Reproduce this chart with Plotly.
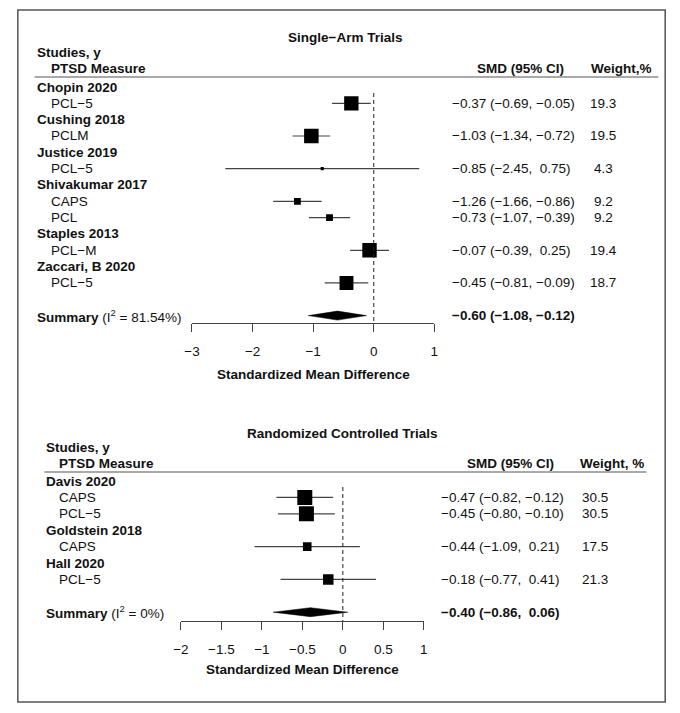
import plotly.graph_objects as go

W, H = 680, 713
FONT = "Liberation Sans, Arial, sans-serif"
FS = 13.5

# ---- Single-arm trials ----
sa_study = ["Chopin 2020", "Cushing 2018", "Justice 2019", "Shivakumar 2017",
            "Staples 2013", "Zaccari, B 2020"]
sa_measure = ["PCL−5", "PCLM", "PCL−5", "CAPS", "PCL", "PCL−M", "PCL−5"]
sa_group = [0, 1, 2, 3, 3, 4, 5]
sa_smd = [-0.37, -1.03, -0.85, -1.26, -0.73, -0.07, -0.45]
sa_lo = [-0.69, -1.34, -2.45, -1.66, -1.07, -0.39, -0.81]
sa_hi = [-0.05, -0.72, 0.75, -0.86, -0.39, 0.25, -0.09]
sa_weight = [19.3, 19.5, 4.3, 9.2, 9.2, 19.4, 18.7]
sa_summary = [-0.60, -1.08, -0.12]
sa_i2 = "81.54%"
sa_ticks = [-3, -2, -1, 0, 1]

# ---- Randomized controlled trials ----
rct_study = ["Davis 2020", "Goldstein 2018", "Hall 2020"]
rct_measure = ["CAPS", "PCL−5", "CAPS", "PCL−5"]
rct_group = [0, 0, 1, 2]
rct_smd = [-0.47, -0.45, -0.44, -0.18]
rct_lo = [-0.82, -0.80, -1.09, -0.77]
rct_hi = [-0.12, -0.10, 0.21, 0.41]
rct_weight = [30.5, 30.5, 17.5, 21.3]
rct_summary = [-0.40, -0.86, 0.06]
rct_i2 = "0%"
rct_ticks = [-2, -1.5, -1, -0.5, 0, 0.5, 1]


def fmt(v):
    s = f"{abs(v):.2f}"
    return ("−" + s) if v < 0 else ("\u00a0" + s)


def ci_text(m, lo, hi):
    return f"{fmt(m).strip()} ({fmt(lo).strip()}, {fmt(hi)})"


panels = [
    dict(title="Single−Arm Trials", title_x=343, title_y=37,
         studies=sa_study, measure=sa_measure, group=sa_group, smd=sa_smd,
         lo=sa_lo, hi=sa_hi, weight=sa_weight, summary=sa_summary, i2=sa_i2,
         ticks=sa_ticks, rng=[-3, 1], xl=187.3, xr=434, axis_y=323,
         y0=87, step=16.33, name_x=27, meas_x=42, smd_x=450,
         w_x=606, w_anchor="center", head1_y=52, head2_y=68,
         smd_head_r=568, w_head_l=591, w_head="Weight,%", line_y=77,
         line_x=(27, 662), xtitle_y=374, xaxis="x", box=14.5),
    dict(title="Randomized Controlled Trials", title_x=340, title_y=433,
         studies=rct_study, measure=rct_measure, group=rct_group, smd=rct_smd,
         lo=rct_lo, hi=rct_hi, weight=rct_weight, summary=rct_summary, i2=rct_i2,
         ticks=rct_ticks, rng=[-2, 1], xl=176, xr=423.3, axis_y=621,
         y0=481, step=16.4, name_x=37, meas_x=50, smd_x=439,
         w_x=582, w_anchor="left", head1_y=447, head2_y=463,
         smd_head_r=558, w_head_l=580, w_head="Weight, %", line_y=472,
         line_x=(37, 650), xtitle_y=669, xaxis="x2", box=15),
]

fig = go.Figure()
ann = []
shapes = []


def text(x, y, s, anchor="left", bold=False):
    ann.append(dict(x=x / W, y=y, xref="paper", yref="y", text=f"<b>{s}</b>" if bold else s,
                    showarrow=False, xanchor=anchor, yanchor="middle",
                    font=dict(family=FONT, size=FS, color="#111")))


layout_axes = {}
for p in panels:
    # row layout: a study row, then one row per measure
    rows_y = []
    study_rows = []
    row = 0
    prev = None
    for g in p["group"]:
        if g != prev:
            study_rows.append((g, p["y0"] + row * p["step"]))
            row += 1
            prev = g
        rows_y.append(p["y0"] + row * p["step"])
        row += 1
    sum_y = p["y0"] + (row + 1) * p["step"]

    # headers
    text(p["title_x"], p["title_y"], p["title"], "center", True)
    text(p["name_x"], p["head1_y"], "Studies, y", bold=True)
    text(p["meas_x"], p["head2_y"], "PTSD Measure", bold=True)
    text(p["smd_head_r"], p["head2_y"], "SMD (95% CI)", "right", True)
    text(p["w_head_l"], p["head2_y"], p["w_head"], bold=True)
    shapes.append(dict(type="line", xref="paper", yref="y", x0=p["line_x"][0] / W,
                       x1=p["line_x"][1] / W, y0=p["line_y"], y1=p["line_y"],
                       line=dict(color="#555", width=1.2)))

    for g, y in study_rows:
        text(p["name_x"], y, p["studies"][g], bold=True)
    for i, y in enumerate(rows_y):
        text(p["meas_x"], y, p["measure"][i])
        text(p["smd_x"], y, ci_text(p["smd"][i], p["lo"][i], p["hi"][i]))
        text(p["w_x"], y, f"{p['weight'][i]:.1f}", p["w_anchor"])

    text(p["name_x"], sum_y, f"<b>Summary</b> (I<sup>2</sup> = {p['i2']})")
    s = p["summary"]
    text(p["smd_x"], sum_y, ci_text(s[0], s[1], s[2]), bold=True)
    text((p["xl"] + p["xr"]) / 2, p["xtitle_y"], "Standardized Mean Difference", "center", True)

    # zero line
    shapes.append(dict(type="line", xref=p["xaxis"], yref="y", x0=0, x1=0,
                       y0=p["y0"] + 6, y1=p["axis_y"],
                       line=dict(color="#222", width=1, dash="4px,3px")))

    # confidence intervals
    cx, cy = [], []
    for l, h, y in zip(p["lo"], p["hi"], rows_y):
        cx += [l, h, None]
        cy += [y, y, None]
    fig.add_trace(go.Scatter(x=cx, y=cy, mode="lines", xaxis=p["xaxis"], yaxis="y",
                             line=dict(color="#444", width=1.2),
                             showlegend=False, hoverinfo="skip"))

    wmax = max(p["weight"])
    fig.add_trace(go.Scatter(
        x=p["smd"], y=rows_y, mode="markers", xaxis=p["xaxis"], yaxis="y",
        marker=dict(symbol="square", color="black", opacity=1,
                    size=[p["box"] * w / wmax for w in p["weight"]], line=dict(width=0)),
        showlegend=False, hoverinfo="skip"))

    hh = 4.5
    fig.add_trace(go.Scatter(
        x=[s[1], s[0], s[2], s[0], s[1]],
        y=[sum_y, sum_y - hh, sum_y, sum_y + hh, sum_y],
        mode="lines", fill="toself", fillcolor="black", line=dict(width=0.5, color="black"),
        xaxis=p["xaxis"], yaxis="y", showlegend=False, hoverinfo="skip"))

    key = "xaxis" if p["xaxis"] == "x" else "xaxis2"
    layout_axes[key] = dict(
        domain=[p["xl"] / W, p["xr"] / W], range=p["rng"], anchor="free",
        position=1 - p["axis_y"] / H, tickvals=p["ticks"],
        showline=True, linecolor="#444", linewidth=1, ticks="outside", ticklen=8,
        tickcolor="#444", tickwidth=1, showgrid=False, zeroline=False,
        ticklabelstandoff=8, tickfont=dict(family=FONT, size=FS, color="#111"))

# outer border
shapes.append(dict(type="rect", xref="paper", yref="paper", x0=10 / W, x1=669 / W,
                   y0=1 - 702 / H, y1=1 - 10 / H, line=dict(color="#555", width=1.5)))

fig.update_layout(
    width=W, height=H, margin=dict(l=0, r=0, t=0, b=0),
    paper_bgcolor="white", plot_bgcolor="rgba(0,0,0,0)",
    yaxis=dict(range=[H, 0], domain=[0, 1], visible=False, fixedrange=True),
    annotations=ann, shapes=shapes, showlegend=False,
    font=dict(family=FONT, size=FS),
    **layout_axes,
)

fig.write_html("out.html", config={"displayModeBar": False},
               post_script="document.body.style.margin='0px';document.body.style.overflow='hidden';")
